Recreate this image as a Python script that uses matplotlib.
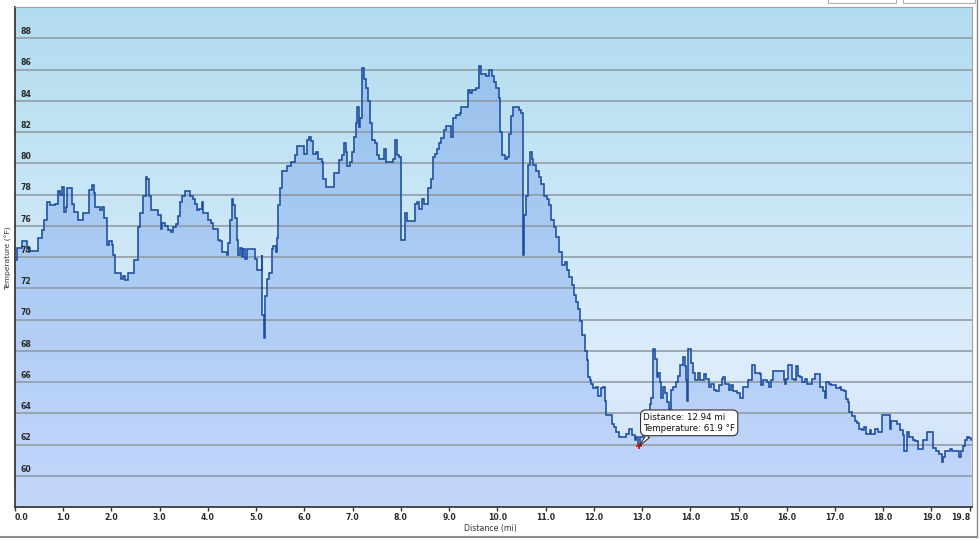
import numpy as np
import matplotlib
matplotlib.use("Agg")
import matplotlib.pyplot as plt
from matplotlib.lines import Line2D
from matplotlib.patches import Rectangle

# ---------------- data ----------------
dist_mi = [
    0.000, 0.035, 0.152, 0.242, 0.311, 0.484, 0.553, 0.608, 0.656, 0.725, 0.829, 0.884, 0.933, 0.981,
    1.022, 1.050, 1.085, 1.174, 1.230, 1.299, 1.416, 1.534, 1.589, 1.630, 1.658, 1.762, 1.810, 1.851,
    1.907, 1.948, 2.003, 2.038, 2.073, 2.197, 2.245, 2.280, 2.349, 2.473, 2.542, 2.591, 2.660, 2.708,
    2.743, 2.777, 2.819, 2.971, 3.019, 3.054, 3.109, 3.164, 3.233, 3.282, 3.330, 3.371, 3.420, 3.468,
    3.523, 3.627, 3.696, 3.731, 3.765, 3.813, 3.869, 3.903, 3.993, 4.062, 4.111, 4.200, 4.249, 4.297,
    4.387, 4.421, 4.456, 4.491, 4.525, 4.560, 4.594, 4.629, 4.663, 4.698, 4.732, 4.767, 4.801, 4.974,
    5.022, 5.113, 5.130, 5.160, 5.190, 5.230, 5.270, 5.320, 5.350, 5.410, 5.440, 5.460, 5.500, 5.540,
    5.630, 5.730, 5.800, 5.840, 6.000, 6.050, 6.090, 6.130, 6.170, 6.240, 6.290, 6.360, 6.390, 6.450,
    6.610, 6.710, 6.770, 6.820, 6.860, 6.890, 6.940, 6.990, 7.020, 7.060, 7.100, 7.130, 7.160, 7.200,
    7.240, 7.270, 7.320, 7.360, 7.410, 7.460, 7.510, 7.550, 7.650, 7.690, 7.840, 7.880, 7.910, 7.970,
    8.010, 8.080, 8.130, 8.290, 8.340, 8.380, 8.430, 8.480, 8.570, 8.620, 8.660, 8.700, 8.750, 8.790,
    8.840, 8.890, 8.930, 9.030, 9.090, 9.140, 9.220, 9.250, 9.390, 9.440, 9.480, 9.560, 9.610, 9.660,
    9.770, 9.830, 9.880, 9.930, 9.980, 10.030, 10.060, 10.100, 10.150, 10.200, 10.240, 10.280, 10.330,
    10.450, 10.500, 10.530, 10.550, 10.600, 10.640, 10.670, 10.710, 10.740, 10.810, 10.870, 10.910,
    10.960, 11.020, 11.070, 11.120, 11.170, 11.220, 11.280, 11.330, 11.400, 11.450, 11.490, 11.540,
    11.580, 11.630, 11.670, 11.720, 11.760, 11.810, 11.850, 11.880, 11.920, 11.950, 11.990, 12.040,
    12.090, 12.140, 12.190, 12.230, 12.260, 12.370, 12.410, 12.460, 12.520, 12.660, 12.730, 12.800,
    12.850, 12.880, 12.920, 12.950, 13.020, 13.160, 13.190, 13.230, 13.260, 13.300, 13.330, 13.370,
    13.400, 13.430, 13.470, 13.520, 13.560, 13.590, 13.640, 13.700, 13.740, 13.790, 13.850, 13.880,
    13.920, 13.940, 13.960, 14.020, 14.060, 14.090, 14.160, 14.210, 14.280, 14.330, 14.390, 14.430,
    14.490, 14.540, 14.600, 14.650, 14.680, 14.720, 14.810, 14.850, 14.890, 14.960, 15.020, 15.090,
    15.200, 15.270, 15.340, 15.440, 15.470, 15.510, 15.580, 15.630, 15.680, 15.720, 15.940, 15.960,
    15.990, 16.030, 16.100, 16.140, 16.190, 16.230, 16.280, 16.320, 16.370, 16.420, 16.530, 16.580,
    16.680, 16.750, 16.800, 16.820, 16.870, 16.920, 17.030, 17.100, 17.130, 17.180, 17.230, 17.270,
    17.300, 17.360, 17.410, 17.460, 17.500, 17.550, 17.600, 17.640, 17.720, 17.750, 17.820, 17.890,
    17.980, 18.130, 18.170, 18.290, 18.340, 18.400, 18.440, 18.490, 18.530, 18.620, 18.660, 18.720,
    18.820, 18.910, 19.030, 19.100, 19.160, 19.210, 19.240, 19.280, 19.380, 19.430, 19.570, 19.620,
    19.650, 19.690, 19.730, 19.770, 19.820,
]
temp_f = [
    73.8, 74.6, 75.0, 74.6, 74.4, 75.2, 75.7, 76.4, 77.5, 77.3, 77.4, 78.2, 78.0, 78.5,
    76.9, 77.2, 78.4, 77.4, 76.9, 76.4, 76.8, 78.3, 78.6, 78.1, 77.2, 77.0, 77.2, 76.5,
    74.8, 75.0, 74.8, 74.1, 73.0, 72.6, 72.8, 72.5, 73.0, 73.8, 75.9, 76.8, 77.9, 79.1,
    79.0, 77.9, 77.0, 76.7, 75.8, 76.2, 76.0, 75.7, 75.6, 75.9, 76.1, 76.6, 77.5, 77.9,
    78.2, 77.9, 77.7, 77.4, 77.0, 77.1, 77.5, 76.8, 76.4, 76.2, 75.8, 75.1, 75.0, 74.3,
    74.1, 74.9, 76.4, 77.7, 77.3, 76.5, 75.1, 74.1, 74.6, 74.0, 74.5, 73.9, 74.5, 73.9,
    73.2, 74.1, 70.3, 68.8, 71.5, 72.6, 73.0, 74.5, 74.7, 74.3, 75.2, 77.3, 78.4, 79.5,
    79.8, 80.1, 80.5, 81.1, 80.6, 81.5, 81.7, 81.4, 80.6, 80.7, 80.3, 80.1, 79.0, 78.5,
    79.4, 80.2, 80.5, 81.3, 80.7, 79.8, 80.1, 80.7, 81.7, 82.6, 83.6, 82.3, 82.9, 86.1,
    85.4, 84.8, 84.0, 82.6, 81.5, 81.3, 80.5, 80.3, 80.9, 80.1, 80.3, 81.5, 80.5, 80.4,
    75.1, 76.8, 76.3, 77.4, 77.5, 77.1, 77.7, 77.4, 78.4, 79.0, 80.4, 80.6, 80.9, 81.3,
    81.6, 82.1, 82.4, 81.7, 82.9, 83.1, 83.2, 83.6, 84.7, 84.5, 84.7, 84.8, 86.2, 85.7,
    85.6, 86.0, 85.6, 85.2, 84.8, 84.2, 82.0, 80.5, 80.3, 80.4, 81.9, 83.0, 83.6,
    83.4, 83.2, 74.1, 76.7, 77.9, 79.9, 80.7, 80.3, 79.9, 79.5, 79.1, 78.7,
    77.9, 77.7, 77.3, 76.4, 75.9, 75.3, 74.3, 73.5, 73.7, 73.2, 72.7, 72.2,
    71.6, 71.1, 70.7, 69.9, 69.0, 68.0, 67.4, 66.3, 66.1, 65.9, 65.6, 65.7,
    65.1, 65.6, 65.7, 64.8, 63.9, 63.3, 63.1, 62.8, 62.5, 62.7, 63.0, 62.6,
    62.3, 62.5, 61.9, 62.5, 63.1, 64.6, 65.0, 68.1, 67.5, 66.3, 66.6, 66.0,
    65.0, 65.7, 65.3, 64.7, 64.3, 65.5, 65.7, 66.0, 66.4, 67.1, 67.6, 67.0,
    66.1, 64.8, 68.1, 67.2, 66.6, 66.1, 66.6, 66.1, 66.5, 66.2, 65.7, 65.9,
    65.5, 65.4, 65.8, 66.2, 66.3, 65.9, 65.5, 65.8, 65.4, 65.3, 65.0, 65.7,
    66.1, 67.1, 66.6, 66.5, 65.8, 66.1, 66.0, 65.7, 66.1, 66.7, 66.1, 65.9,
    66.2, 67.1, 66.2, 66.1, 67.0, 66.4, 66.3, 66.0, 66.2, 65.9, 66.2, 66.5,
    65.7, 65.4, 65.0, 66.0, 65.9, 65.8, 65.6, 65.7, 65.5, 65.4, 64.9, 64.7,
    64.1, 63.8, 63.5, 63.4, 63.0, 62.9, 63.1, 62.7, 62.9, 62.7, 63.0, 62.8,
    63.9, 63.0, 63.5, 63.3, 62.9, 62.6, 61.6, 62.8, 62.5, 62.3, 62.2, 61.7,
    62.3, 62.8, 61.8, 61.6, 61.4, 60.9, 61.2, 61.6, 61.7, 61.6, 61.2, 61.6,
    61.9, 62.3, 62.5, 62.4, 62.3,
]
y_ticks = [60, 62, 64, 66, 68, 70, 72, 74, 76, 78, 80, 82, 84, 86, 88]
x_ticks = [0, 1, 2, 3, 4, 5, 6, 7, 8, 9, 10, 11, 12, 13, 14, 15, 16, 17, 18, 19, 19.8]
x_tick_labels = ["0.0", "1.0", "2.0", "3.0", "4.0", "5.0", "6.0", "7.0", "8.0", "9.0", "10.0",
                 "11.0", "12.0", "13.0", "14.0", "15.0", "16.0", "17.0", "18.0", "19.0", "19.8"]
tip_dist = 12.94
tip_temp = 61.9

X_MAX = 19.84
Y_MIN, Y_MAX = 58, 90

# ---------------- figure ----------------
fig = plt.figure(figsize=(9.8, 5.4), dpi=100)
fig.patch.set_facecolor("white")
ax = fig.add_axes([15 / 980, 33 / 540, 957 / 980, 500 / 540])
ax.set_xlim(0, X_MAX)
ax.set_ylim(Y_MIN, Y_MAX)


def vgrad(stops, n=256):
    pos = np.array([s[0] for s in stops])
    cols = np.array([s[1] for s in stops], dtype=float) / 255.0
    t = np.linspace(0, 1, n)
    arr = np.stack([np.interp(t, pos, cols[:, i]) for i in range(3)], axis=1)
    return arr[:, None, :]


bg = vgrad([(0.0, (178, 220, 239)), (0.35, (198, 229, 246)),
            (0.72, (221, 237, 251)), (1.0, (206, 222, 252))])
ax.imshow(bg, extent=[0, X_MAX, Y_MIN, Y_MAX], aspect="auto", zorder=0,
          interpolation="bicubic", origin="upper")

fg = vgrad([(0.0, (150, 192, 236)), (0.45, (168, 202, 242)), (1.0, (196, 214, 252))])
im = ax.imshow(fg, extent=[0, X_MAX, Y_MIN, Y_MAX], aspect="auto", zorder=1,
               interpolation="bicubic", origin="upper")
poly = ax.fill_between(dist_mi, temp_f, Y_MIN, step="post", facecolor="none",
                       edgecolor="none", zorder=1)
im.set_clip_path(poly.get_paths()[0], transform=ax.transData)

for v in y_ticks:
    ax.axhline(v, color="#8d979f", lw=1.1, zorder=2)
    ax.text(0.11, v + 0.42, str(v), fontsize=5.6, fontweight="bold", color="#2a2a2a",
            ha="left", va="center", zorder=4)

ax.plot(dist_mi, temp_f, drawstyle="steps-post", color="#1b4d9e", lw=1.15, zorder=3,
        solid_joinstyle="miter")

ax.set_yticks([])
ax.set_xticks(x_ticks)
ax.set_xticklabels(x_tick_labels, fontsize=5.6, fontweight="bold", color="#2a2a2a")
xl = ax.get_xticklabels()
xl[0].set_ha("left")
xl[-1].set_ha("right")
ax.tick_params(axis="x", direction="out", length=3, width=1, color="#333333", pad=1.5)

for side in ["left", "bottom"]:
    ax.spines[side].set_color("#3a3a3a")
    ax.spines[side].set_linewidth(1.3)
for side in ["top", "right"]:
    ax.spines[side].set_color("#a0a0a0")
    ax.spines[side].set_linewidth(0.8)

fig.text(490 / 980, 1 - 529 / 540, "Distance (mi)", fontsize=5.6, color="#333333",
         ha="center", va="center")
fig.text(8 / 980, 1 - 258 / 540, "Temperature (°F)", fontsize=5.4, color="#333333",
         ha="center", va="center", rotation=90)

# tooltip
ax.plot([tip_dist], [tip_temp], marker="P", color="#e02020", markersize=5, zorder=6,
        markeredgewidth=0)
ax.annotate(f"Distance: {tip_dist:.2f} mi\nTemperature: {tip_temp} °F",
            xy=(tip_dist, tip_temp), xytext=(4, 13), textcoords="offset pixels",
            fontsize=6.3, color="#111111", ha="left", va="bottom", linespacing=1.35,
            zorder=7,
            bbox=dict(boxstyle="round,pad=0.3,rounding_size=0.6", fc="white",
                      ec="#333333", lw=0.8),
            arrowprops=dict(arrowstyle="wedge,tail_width=0.5,shrink_factor=0.5",
                            fc="white", ec="#333333", lw=0.8, relpos=(0.08, 0.0),
                            shrinkA=0, shrinkB=0))

# outer frame bits / UI widgets
fig.add_artist(Line2D([0, 977 / 980], [3 / 540, 3 / 540], color="#8a8a8a", lw=1.5))
fig.add_artist(Line2D([977 / 980, 977 / 980], [3 / 540, 1], color="#8a8a8a", lw=1.0))
for x0, x1 in [(828, 896), (903, 975)]:
    fig.add_artist(Rectangle((x0 / 980, 1 - 3 / 540), (x1 - x0) / 980, 6 / 540,
                             transform=fig.transFigure, fc="white", ec="#b0b0b0", lw=0.8))

fig.savefig("out.png", dpi=100)
